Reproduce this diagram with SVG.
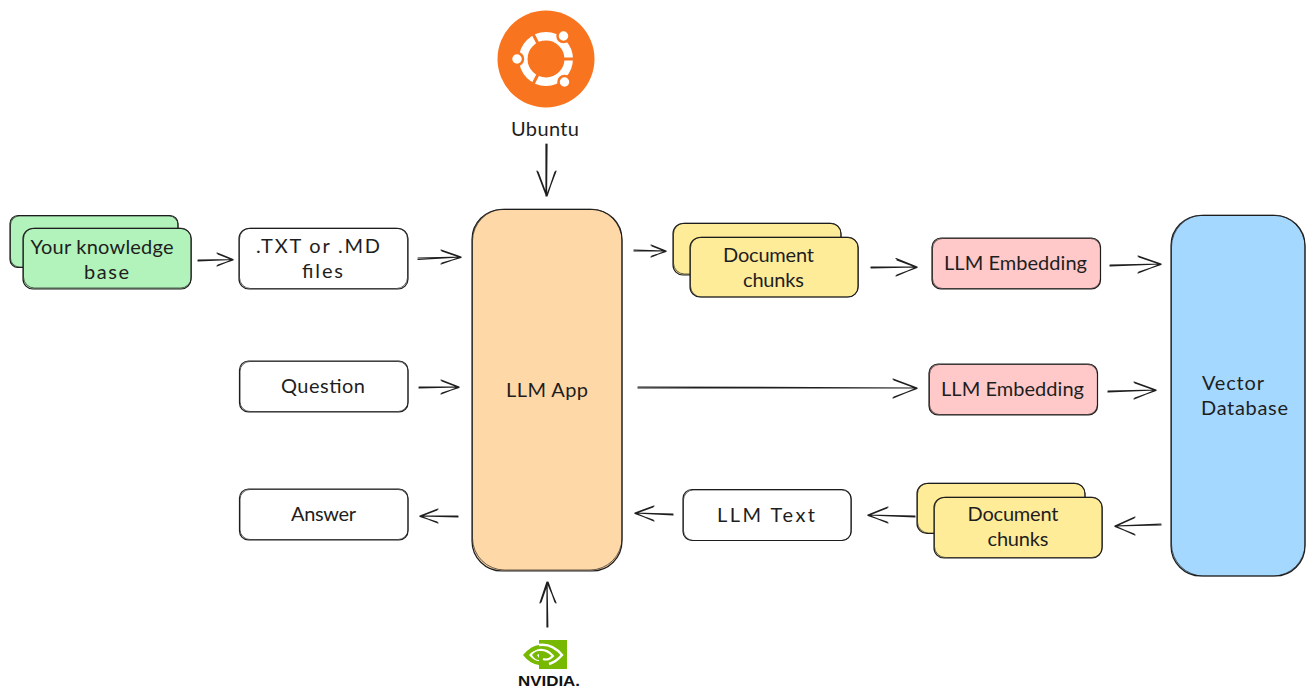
<svg xmlns="http://www.w3.org/2000/svg" width="1315" height="698" viewBox="0 0 1315 698">
<style>
.b{stroke:#1e1e1e;stroke-width:1.2;}
.o{fill:none;stroke:#1e1e1e;stroke-width:.8;stroke-opacity:.85;}
.t{font-family:"Lato","Noto Sans",sans-serif;font-size:20px;fill:#1e1e1e;text-anchor:middle;}
.c path{fill:none;stroke:#1e1e1e;stroke-width:1.2;stroke-linecap:round;stroke-linejoin:round;}
.g{fill:#b2f2bb;}.w{fill:#fff;}.y{fill:#ffec99;}.p{fill:#ffc9c9;}.n{fill:#ffd8a8;}.u{fill:#a5d8ff;}
</style>
<rect width="1315" height="698" fill="#fff"/>
<g id="connectors" class="c">
<path d="M198 260L233 259.500M198 261L233 259.500M217 253L233 259.500L217 266M218 254L233 260L218 265"/>
<path d="M418 258L461 257M418 259.500L461 257M441 250L461 257L441 264M442 251L461 257.500L442 263"/>
<path d="M634 250L666 251M634 251L666 251M651 245L666 251L651 257M652 246L666 251.500L652 256"/>
<path d="M871 267L917 267M871 267.800L917 267M896 258.500L917 267L896 276M897 260L917 267.500L897 275"/>
<path d="M1110 265L1161 264M1110 266L1161 264M1138 256L1161 264L1138 273M1139 257L1161 264.500L1139 272"/>
<path d="M419 387L459 387M419 388L459 387M441 380L459 387L441 394M442 381L459 387.500L442 393"/>
<path d="M638 387L917 388M638 388L917 388M893 379L917 388L893 398M894 380L917 388.500L894 397"/>
<path d="M1108 391L1156 390M1108 392L1156 390M1134 382L1156 390L1134 399M1135 383L1156 390.500L1135 398"/>
<path d="M458 516L420 516M458 517L420 516M438 509L420 516L438 523M437 510L420 516.500L437 522"/>
<path d="M1161 524L1115 526M1161 525L1115 526M1135 517L1115 526L1135 535M1134 518L1115 526.500L1134 534"/>
<path d="M915 516L868 515M915 517L868 515M888 507L868 515L888 523M887 508L868 515.500L887 522"/>
<path d="M673 514L635 513M673 515L635 513M654 506L635 513L654 521M653 507L635 513.500L653 520"/>
<path d="M546 144L546 196M547 144L546.500 196M537 171L546.500 196L556 171M538 172L547 196L555 172"/>
<path d="M547 627L547 582M547.800 627L547 582M540 603L547 582L556 603M541 602L548 582L555 602"/>
</g>
<g id="node-ubuntu">
<circle cx="546" cy="59" r="48.500" fill="#f9741f"/>
<circle cx="546" cy="59" r="22.700" fill="none" stroke="#fff" stroke-width="8.500"/>
<path d="M546 59L576 59M546 59L532 32M546 59L532 86" stroke="#f9741f" stroke-width="3"/>
<g fill="#fff" stroke="#f9741f" stroke-width="2.500"><circle cx="563.500" cy="36" r="6"/><circle cx="517" cy="59" r="6"/><circle cx="564.500" cy="82" r="6"/></g>
<text class="t" x="545" y="136" textLength="68" lengthAdjust="spacing">Ubuntu</text>
</g>
<g id="node-nvidia">
<rect x="539" y="640" width="28" height="29" fill="#76b900"/>
<path d="M523 655Q532 645 539 645V650Q533 650 529 655Q534 661 539 661V665Q530 664 523 655Z" fill="#76b900"/>
<path d="M539 645Q552 643 562 655Q556 662 549 664" fill="none" stroke="#fff" stroke-width="2.500"/>
<path d="M532 655Q537 650 539 650Q547 649 553 656Q548 661 543 659" fill="none" stroke="#fff" stroke-width="2"/>
<path d="M532 655Q535 651 539 651V654L537 655L539 658V660Q535 660 532 655Z" fill="#76b900"/>
<text x="549" y="686" font-family="'Liberation Sans',sans-serif" font-size="15.500" font-weight="700" fill="#111" text-anchor="middle" textLength="62" lengthAdjust="spacingAndGlyphs">NVIDIA.</text>
</g>
<g id="node-kb">
<rect class="g b" x="10" y="215.500" width="168" height="52" rx="8"/><rect class="o" x="10.500" y="216" width="167.500" height="51" rx="9"/>
<rect class="g b" x="23" y="228.500" width="168" height="60.500" rx="10"/><rect class="o" x="23.500" y="228" width="168" height="60" rx="11"/>
<text class="t" x="102" y="254" textLength="143" lengthAdjust="spacing">Your knowledge</text><text class="t" x="106.500" y="279" textLength="45" lengthAdjust="spacing">base</text>
</g>
<g id="node-files">
<rect class="w b" x="239" y="228.500" width="169" height="60.500" rx="10"/><rect class="o" x="239.500" y="228" width="168" height="60.500" rx="11"/>
<text class="t" x="318" y="253" textLength="124" lengthAdjust="spacing">.TXT or .MD</text><text class="t" x="322.500" y="278" textLength="41" lengthAdjust="spacing">files</text>
</g>
<g id="node-question">
<rect class="w b" x="239.500" y="361" width="168.500" height="51" rx="9"/><rect class="o" x="240" y="361.500" width="168" height="50" rx="10"/>
<text class="t" x="323" y="393" textLength="84" lengthAdjust="spacing">Question</text>
</g>
<g id="node-answer">
<rect class="w b" x="239.500" y="489" width="168.500" height="51" rx="9"/><rect class="o" x="240" y="489.500" width="168" height="50" rx="10"/>
<text class="t" x="323.500" y="521" textLength="65" lengthAdjust="spacing">Answer</text>
</g>
<g id="node-app">
<rect class="n b" x="472" y="209.500" width="150" height="361.500" rx="30"/><rect class="o" x="472.500" y="209" width="149.500" height="361" rx="32"/>
<text class="t" x="547" y="397" textLength="82" lengthAdjust="spacing">LLM App</text>
</g>
<g id="node-chunks-1">
<rect class="y b" x="673" y="223.500" width="168" height="51.500" rx="10"/><rect class="o" x="673.500" y="223" width="167.500" height="51" rx="11"/>
<rect class="y b" x="690" y="237.500" width="168" height="59.500" rx="10"/><rect class="o" x="690.500" y="237" width="168" height="60" rx="11"/>
<text class="t" x="768.500" y="262" textLength="91" lengthAdjust="spacing">Document</text><text class="t" x="773.500" y="287" textLength="61" lengthAdjust="spacing">chunks</text>
</g>
<g id="node-embed-1">
<rect class="p b" x="932" y="238" width="168.500" height="51" rx="9"/><rect class="o" x="932.500" y="238.500" width="168" height="50" rx="10"/>
<text class="t" x="1015.500" y="270" textLength="143" lengthAdjust="spacing">LLM Embedding</text>
</g>
<g id="node-embed-2">
<rect class="p b" x="929" y="364" width="168.500" height="51" rx="9"/><rect class="o" x="929.500" y="364.500" width="168" height="50" rx="10"/>
<text class="t" x="1012.500" y="396" textLength="143" lengthAdjust="spacing">LLM Embedding</text>
</g>
<g id="node-text">
<rect class="w b" x="683" y="489.500" width="168" height="51" rx="9"/><rect class="o" x="683.500" y="490" width="168" height="50.500" rx="10"/>
<text class="t" x="766" y="522" textLength="98" lengthAdjust="spacing">LLM Text</text>
</g>
<g id="node-chunks-2">
<rect class="y b" x="917" y="483.500" width="168" height="50" rx="10"/><rect class="o" x="917.500" y="483" width="167.500" height="50" rx="11"/>
<rect class="y b" x="934" y="497.500" width="168" height="60.500" rx="10"/><rect class="o" x="934.500" y="497" width="168" height="60.500" rx="11"/>
<text class="t" x="1013" y="521" textLength="91" lengthAdjust="spacing">Document</text><text class="t" x="1018" y="546" textLength="61" lengthAdjust="spacing">chunks</text>
</g>
<g id="node-vector">
<rect class="u b" x="1171" y="215.500" width="134" height="360.500" rx="30"/><rect class="o" x="1171.500" y="215" width="133.500" height="361" rx="32"/>
<text class="t" x="1233" y="390" textLength="62" lengthAdjust="spacing">Vector</text><text class="t" x="1244.500" y="415" textLength="87" lengthAdjust="spacing">Database</text>
</g>
</svg>
